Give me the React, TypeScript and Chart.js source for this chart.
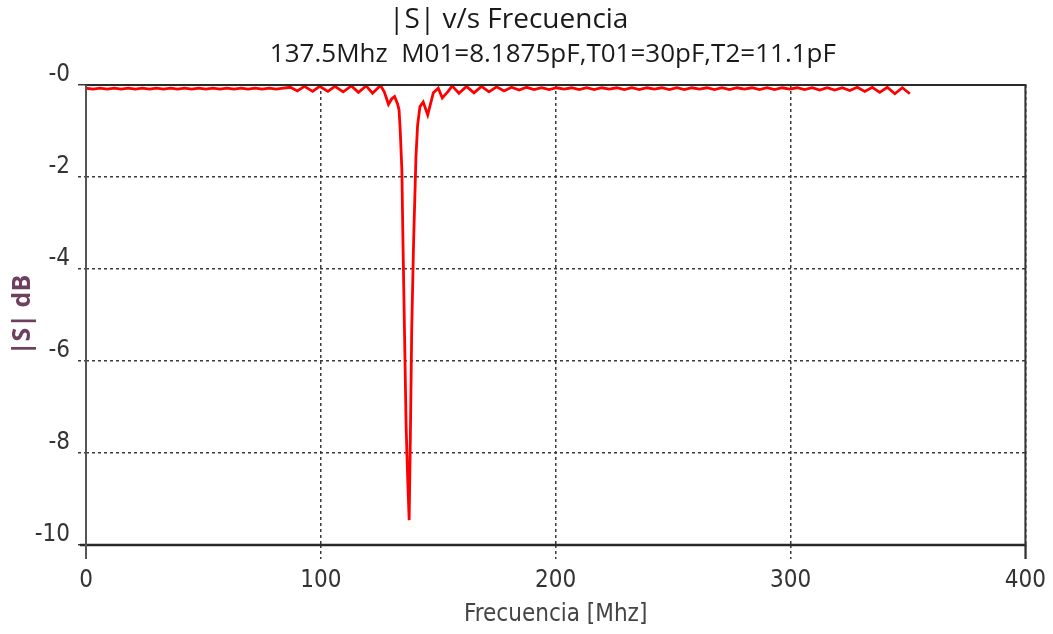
import React, { useEffect, useRef } from "react";
import { Chart, registerables } from "chart.js";

Chart.register(...registerables);

// ---- data ----
const FREQ_MHZ: number[] = [
  0, 3, 6, 9, 12, 15, 18, 21, 24, 27, 30, 33, 36, 39, 42, 45, 48, 51, 54, 57,
  60, 63, 66, 69, 72, 75, 78, 81, 84, 87,
  90, 93, 96.5, 99.5, 103, 106, 109.5, 113, 116, 119.3, 122, 125.4,
  127, 128.8, 130.2, 131.4, 132.6, 133.3, 133.8, 134.5, 134.9, 135.5, 136.3,
  137.0, 137.6, 138.1, 138.7, 139.5, 140.5, 141.2, 142.2, 143.6, 145.5,
  147.9, 150, 151.7, 154.2, 155.9,
  158.8, 162, 165.2, 168.4, 171.6, 174.8, 178, 181.2, 184.4, 187.6, 190.8,
  194, 197.2, 200.4, 203.6, 206.8, 210, 213.2, 216.4, 219.6, 222.8, 226,
  229.2, 232.4, 235.6, 238.8, 242, 245.2, 248.4, 251.6, 254.8, 258, 261.2,
  264.4, 267.6, 270.8, 274, 277.2, 280.4, 283.6, 286.8, 290, 293.2, 296.4,
  299.6, 302.8, 306, 309.2, 312.4, 315.6, 318.8, 322, 325.2, 328.4, 331.6,
  334.8, 338, 341.2, 344.4, 347.6, 350.8,
];

const S_DB: number[] = [
  -0.07, -0.09, -0.07, -0.09, -0.07, -0.09, -0.07, -0.09, -0.07, -0.09,
  -0.07, -0.09, -0.07, -0.09, -0.07, -0.09, -0.07, -0.09, -0.07, -0.09,
  -0.07, -0.09, -0.07, -0.09, -0.07, -0.09, -0.07, -0.09, -0.07, -0.05,
  -0.13, -0.03, -0.14, -0.03, -0.14, -0.03, -0.15, -0.02, -0.16, -0.02, -0.18, -0.01,
  -0.15, -0.42, -0.3, -0.25, -0.4, -0.54, -0.98, -1.85, -3.2, -5.0, -7.4,
  -8.6, -9.46, -7.7, -5.3, -3.4, -1.56, -0.87, -0.47, -0.37, -0.65,
  -0.17, -0.07, -0.28, -0.14, -0.02,
  -0.18, -0.03, -0.17, -0.03, -0.15, -0.04, -0.13, -0.05, -0.11, -0.05, -0.1,
  -0.06, -0.1, -0.06, -0.09, -0.06, -0.1, -0.06, -0.1, -0.06, -0.09, -0.06,
  -0.1, -0.06, -0.1, -0.06, -0.09, -0.06, -0.1, -0.06, -0.1, -0.06, -0.09,
  -0.06, -0.1, -0.06, -0.1, -0.06, -0.09, -0.06, -0.1, -0.06, -0.1, -0.06,
  -0.09, -0.06, -0.1, -0.06, -0.11, -0.06, -0.11, -0.06, -0.12, -0.05, -0.14,
  -0.05, -0.16, -0.05, -0.19, -0.06, -0.19,
];

const X_TICKS: number[] = [0, 100, 200, 300, 400];
const X_TICK_LABELS: string[] = ["0", "100", "200", "300", "400"];
const Y_TICKS: number[] = [0, -2, -4, -6, -8, -10];
const Y_TICK_LABELS: string[] = ["-0", "-2", "-4", "-6", "-8", "-10"];

const TITLE = "|S| v/s Frecuencia";
const SUBTITLE = "137.5Mhz  M01=8.1875pF,T01=30pF,T2=11.1pF";
const X_TITLE = "Frecuencia [Mhz]";
const Y_TITLE = "|S| dB";

const NARROW = "'Liberation Sans Narrow', 'DejaVu Sans Condensed', 'Liberation Sans', sans-serif";
const TITLE_FONT = "'Open Sans', 'Noto Sans', sans-serif";

const framePlugin = {
  id: "frameAndTitles",
  afterDatasetsDraw(chart: any) {
    const { ctx, chartArea: a } = chart;
    ctx.save();
    ctx.lineCap = "butt";
    ctx.strokeStyle = "#2a2a2a";
    ctx.lineWidth = 2;
    ctx.beginPath();
    ctx.moveTo(a.left - 1, a.top);
    ctx.lineTo(a.right + 1, a.top);
    ctx.stroke();
    ctx.lineWidth = 2.5;
    ctx.beginPath();
    ctx.moveTo(a.left - 6, a.bottom);
    ctx.lineTo(a.right + 1, a.bottom);
    ctx.stroke();
    ctx.strokeStyle = "#555";
    ctx.lineWidth = 2;
    ctx.beginPath();
    ctx.moveTo(a.left, a.top);
    ctx.lineTo(a.left, a.bottom + 14);
    ctx.stroke();
    ctx.strokeStyle = "#333";
    ctx.beginPath();
    ctx.moveTo(a.right, a.top);
    ctx.lineTo(a.right, a.bottom + 14);
    ctx.stroke();
    ctx.restore();
  },
  afterDraw(chart: any) {
    const { ctx, chartArea: a } = chart;
    ctx.save();
    ctx.fillStyle = "#1a1a1a";
    ctx.textAlign = "center";
    ctx.textBaseline = "middle";
    ctx.font = `28px ${TITLE_FONT}`;
    ctx.fillText(TITLE, a.left + (a.right - a.left) * 0.45, 20);
    ctx.font = `26px ${TITLE_FONT}`;
    ctx.fillText(SUBTITLE, a.left + (a.right - a.left) * 0.497, 55);
    ctx.restore();
  },
};

export default function App() {
  const canvasRef = useRef<HTMLCanvasElement | null>(null);

  useEffect(() => {
    if (!canvasRef.current) return;
    const points = FREQ_MHZ.map((x, i) => ({ x, y: S_DB[i] }));
    const dash = (c: any) =>
      c.tick && (c.tick.value === 0 || c.tick.value === 400 || c.tick.value === -10) ? [] : [3, 3];
    const chart = new Chart(canvasRef.current, {
      type: "line",
      data: {
        datasets: [
          {
            data: points,
            borderColor: "#ff0000",
            borderWidth: 2.8,
            pointRadius: 0,
            tension: 0,
            fill: false,
          },
        ],
      },
      options: {
        responsive: true,
        maintainAspectRatio: false,
        animation: false,
        layout: { padding: { top: 85, left: 0, right: 23, bottom: 0 } },
        plugins: {
          legend: { display: false },
          tooltip: { enabled: false },
          title: { display: false },
        },
        scales: {
          x: {
            type: "linear",
            min: 0,
            max: 400,
            afterBuildTicks: (s: any) => {
              s.ticks = X_TICKS.map((v) => ({ value: v }));
            },
            afterFit: (s: any) => {
              s.height = 89;
            },
            ticks: {
              callback: (v: any) => X_TICK_LABELS[X_TICKS.indexOf(Number(v))] ?? "",
              font: { family: NARROW, size: 24 },
              color: "#333",
              padding: 7,
              maxRotation: 0,
              autoSkip: false,
            },
            grid: {
              color: "#3a3a3a",
              lineWidth: 1.5,
              tickLength: 14,
              tickColor: "#3a3a3a",
              tickWidth: 1.5,
              tickBorderDash: dash,
            },
            border: { display: false, dash: [3, 3] },
            title: {
              display: true,
              text: X_TITLE,
              color: "#444",
              font: { family: NARROW, size: 24 },
              padding: { top: 0, bottom: 5 },
            },
          },
          y: {
            type: "linear",
            min: -10,
            max: 0,
            afterBuildTicks: (s: any) => {
              s.ticks = Y_TICKS.map((v) => ({ value: v }));
            },
            afterFit: (s: any) => {
              s.width = 86;
            },
            ticks: {
              callback: (v: any) => Y_TICK_LABELS[Y_TICKS.indexOf(Number(v))] ?? "",
              font: { family: NARROW, size: 24 },
              color: "#333",
              padding: 8,
              labelOffset: -10,
              autoSkip: false,
            },
            grid: {
              color: "#3a3a3a",
              lineWidth: 1.5,
              tickLength: 8,
              tickColor: "#3a3a3a",
              tickWidth: 1.5,
              tickBorderDash: dash,
            },
            border: { display: false, dash: [3, 3] },
            title: {
              display: true,
              text: Y_TITLE,
              color: "#6e3f5e",
              font: { family: TITLE_FONT, size: 25, weight: "bold" },
              padding: { top: 8, bottom: 0 },
            },
          },
        },
      },
      plugins: [framePlugin],
    });
    return () => chart.destroy();
  }, []);

  return (
    <div
      style={{
        position: "absolute",
        left: 0,
        top: 0,
        width: "1053px",
        height: "634px",
        background: "#ffffff",
      }}
    >
      <canvas ref={canvasRef} />
    </div>
  );
}
